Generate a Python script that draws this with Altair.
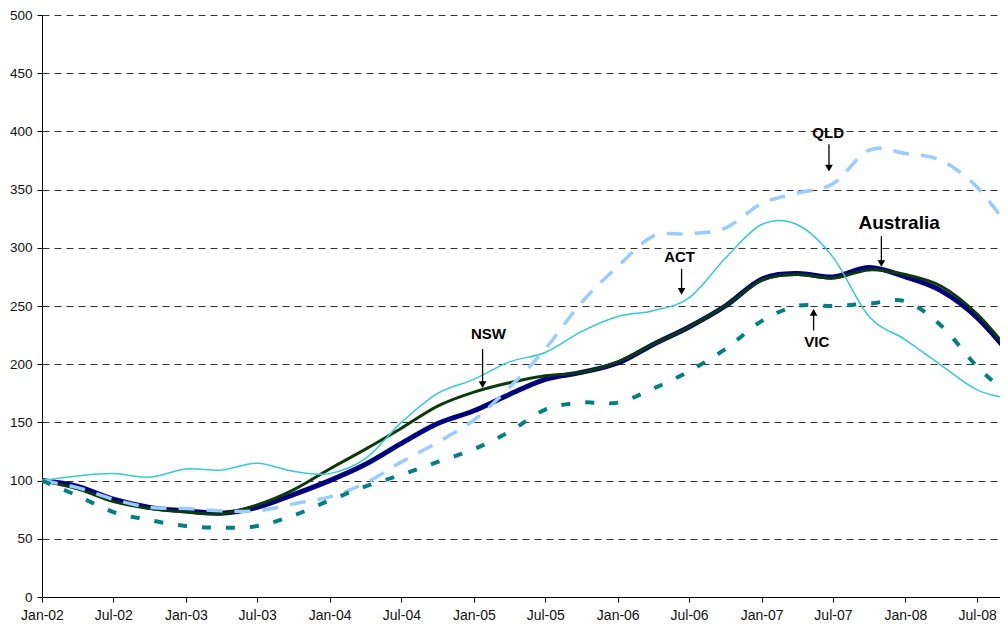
import altair as alt
import pandas as pd

# Quarterly observations, Jan-02 .. Oct-08 (index, Jan-02 = 100)
months = [
    "2002-01-01", "2002-04-01", "2002-07-01", "2002-10-01",
    "2003-01-01", "2003-04-01", "2003-07-01", "2003-10-01",
    "2004-01-01", "2004-04-01", "2004-07-01", "2004-10-01",
    "2005-01-01", "2005-04-01", "2005-07-01", "2005-10-01",
    "2006-01-01", "2006-04-01", "2006-07-01", "2006-10-01",
    "2007-01-01", "2007-04-01", "2007-07-01", "2007-10-01",
    "2008-01-01", "2008-04-01", "2008-07-01", "2008-10-01",
]
australia = [100, 95, 84, 77, 74, 72, 77, 88, 100, 114, 132, 149, 160, 174,
             187, 193, 201, 217, 232, 250, 273, 278, 275, 283, 275, 263, 240, 205]
nsw = [100, 93, 82, 76, 73, 71.5, 79, 92, 110, 127, 145, 164, 176, 184,
       190, 193, 202, 217, 232, 250, 272, 277, 274, 281, 277, 267, 243, 207]
qld = [100, 94, 84, 77, 76, 74, 74, 80, 86, 98, 116, 133, 152, 180,
       213, 253, 284, 310, 312, 317, 338, 347, 355, 384, 381, 375, 352, 312]
act = [100, 104, 106, 103, 110, 109, 115, 108, 106, 119, 150, 175, 187, 202,
       210, 228, 241, 246, 257, 291, 320, 320, 292, 241, 221, 199, 178, 170]
vic = [100, 87, 73, 66, 61, 59.5, 61, 70, 83, 95, 105, 116, 127, 142,
       161, 167, 167, 179, 194, 213, 237, 250, 250, 252, 254, 233, 198, 170]

# Annotations
label_text = ["QLD", "Australia", "ACT", "NSW", "VIC"]
label_date = ["2007-06-19", "2007-12-16", "2006-06-07", "2005-02-07", "2007-05-21"]
label_y = [399, 321, 292, 226, 219]
label_size = [15, 19, 15, 15, 15]
arrow_date = ["2007-06-21", "2007-11-01", "2006-06-12", "2005-01-23", "2007-05-13"]
arrow_from = [389, 310, 282, 213, 229]
arrow_tip = [365, 283, 259, 179, 248]

series = {"Australia": australia, "NSW": nsw, "QLD": qld, "ACT": act, "VIC": vic}
rows = []
for name, vals in series.items():
    for d, v in zip(months, vals):
        rows.append({"date": d, "value": v, "series": name})
df = pd.DataFrame(rows)

labels = pd.DataFrame({"text": label_text, "date": label_date, "y": label_y, "size": label_size})
arrows = pd.DataFrame({"date": arrow_date, "y": arrow_from, "tip": arrow_tip})
arrows["dir"] = ["down" if t < f else "up" for f, t in zip(arrow_from, arrow_tip)]
arrows["head"] = [t + 3.5 if t < f else t - 3.5 for f, t in zip(arrow_from, arrow_tip)]

x_vals = []
for yr in range(2002, 2009):
    for mo in (1, 7):
        x_vals.append(alt.DateTime(year=yr, month=mo, date=1, utc=True))

x_scale = alt.Scale(
    type="utc",
    domain=[alt.DateTime(year=2002, month=1, date=1, utc=True),
            alt.DateTime(year=2008, month=8, date=28, utc=True)],
)
y_scale = alt.Scale(domain=[0, 500], nice=False)

x_enc = alt.X(
    "date:T",
    scale=x_scale,
    axis=alt.Axis(
        values=x_vals, labelExpr="utcFormat(datum.value, '%b-%y')", grid=False,
        tickSize=5, labelPadding=6, labelFlush=False, labelOverlap=False,
        labelFont="Liberation Sans", labelFontSize=14, labelColor="#111",
        domainColor="#000", tickColor="#000", title=None,
    ),
)
y_enc = alt.Y(
    "value:Q",
    scale=y_scale,
    axis=alt.Axis(
        values=list(range(0, 501, 50)), grid=True, gridColor="#333",
        gridDash=[7, 5], gridWidth=1, tickSize=5, labelPadding=5,
        labelFont="Liberation Sans", labelFontSize=13.5, labelColor="#111",
        domainColor="#000", tickColor="#000", title=None,
    ),
)

base = alt.Chart(df)

def line(name, color, width, dash=None):
    kw = dict(color=color, strokeWidth=width, interpolate="cardinal", clip=True)
    if dash:
        kw["strokeDash"] = dash
        kw["strokeCap"] = "butt"
    return base.transform_filter(alt.datum.series == name).mark_line(**kw).encode(x=x_enc, y=y_enc)

lines = [
    line("Australia", "#000080", 5),
    line("NSW", "#0b3b0b", 3),
    line("ACT", "#33CCCC", 1.5),
    line("QLD", "#99CCFF", 3.5, [16, 12]),
    line("VIC", "#008080", 4, [9, 15]),
]

text_layer = alt.Chart(labels).mark_text(
    font="Liberation Sans", fontWeight="bold", color="#000", align="center", baseline="middle"
).encode(
    x=alt.X("date:T", scale=x_scale),
    y=alt.Y("y:Q", scale=y_scale),
    text="text:N",
    size=alt.Size("size:Q", scale=None, legend=None),
)

arrow_rules = alt.Chart(arrows).mark_rule(color="#000", strokeWidth=1.3).encode(
    x=alt.X("date:T", scale=x_scale),
    y=alt.Y("y:Q", scale=y_scale),
    y2="head:Q",
)
heads_down = alt.Chart(arrows).transform_filter(alt.datum.dir == "down").mark_point(
    shape="triangle-down", filled=True, color="#000", size=60, opacity=1
).encode(x=alt.X("date:T", scale=x_scale), y=alt.Y("head:Q", scale=y_scale))
heads_up = alt.Chart(arrows).transform_filter(alt.datum.dir == "up").mark_point(
    shape="triangle-up", filled=True, color="#000", size=60, opacity=1
).encode(x=alt.X("date:T", scale=x_scale), y=alt.Y("head:Q", scale=y_scale))

chart = alt.layer(*lines, arrow_rules, heads_down, heads_up, text_layer).properties(
    width=958,
    height=582,
    autosize=alt.AutoSizeParams(type="none"),
    padding={"left": 34, "top": 7, "right": 0, "bottom": 25},
).configure_view(stroke=None)

chart.save("out.html", embed_options={"renderer": "svg", "actions": False})
